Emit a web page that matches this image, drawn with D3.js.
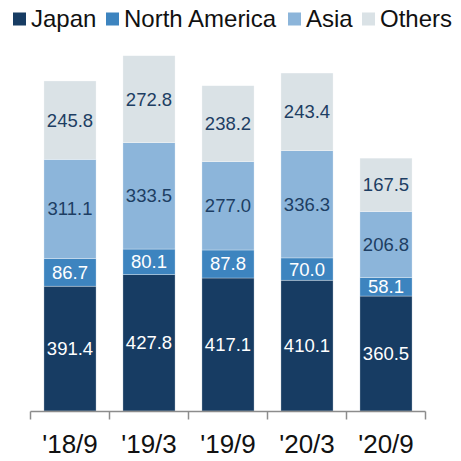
<!DOCTYPE html>
<html>
<head>
<meta charset="utf-8">
<script src="https://cdn.jsdelivr.net/npm/d3@7"></script>
<style>
  html, body { margin: 0; padding: 0; background: #fff; }
  svg { display: block; font-family: "Liberation Sans", Arial, Helvetica, sans-serif; }
</style>
</head>
<body>
<svg id="chart" width="461" height="461"></svg>
<script>
// Periods on the horizontal axis
const periods = ["'18/9", "'19/3", "'19/9", "'20/3", "'20/9"];

// Regional series, stacked bottom to top
const regions = ["Japan", "North America", "Asia", "Others"];
const japan        = [391.4, 427.8, 417.1, 410.1, 360.5];
const northAmerica = [86.7, 80.1, 87.8, 70.0, 58.1];
const asia         = [311.1, 333.5, 277.0, 336.3, 206.8];
const others       = [245.8, 272.8, 238.2, 243.4, 167.5];

const colors = {
  "Japan": "#173c63",
  "North America": "#3d84bf",
  "Asia": "#8cb5da",
  "Others": "#dae2e6"
};
const labelColors = {
  "Japan": "#ffffff",
  "North America": "#ffffff",
  "Asia": "#1d3e63",
  "Others": "#1d3e63"
};

const rows = periods.map((p, i) => ({
  period: p,
  "Japan": japan[i],
  "North America": northAmerica[i],
  "Asia": asia[i],
  "Others": others[i]
}));

const svg = d3.select("#chart");

const x = d3.scaleBand()
  .domain(periods)
  .range([30.5, 425.5])
  .paddingInner(0.34)
  .paddingOuter(0.17);

const maxTotal = d3.max(rows, r => regions.reduce((s, k) => s + r[k], 0));
const y = d3.scaleLinear()
  .domain([0, maxTotal])
  .range([411, 55.7]);

const series = d3.stack().keys(regions)(rows);

const layers = svg.append("g").selectAll("g")
  .data(series)
  .join("g")
  .attr("fill", d => colors[d.key]);

layers.selectAll("rect")
  .data(d => d)
  .join("rect")
  .attr("x", d => x(d.data.period))
  .attr("width", x.bandwidth())
  .attr("y", d => y(d[1]))
  .attr("height", d => y(d[0]) - y(d[1]))
  .attr("stroke", "#ffffff")
  .attr("stroke-opacity", 0.5)
  .attr("stroke-width", 0.6);

// Value labels centred in each segment
svg.append("g").selectAll("g")
  .data(series)
  .join("g")
  .attr("fill", d => labelColors[d.key])
  .selectAll("text")
  .data(d => d)
  .join("text")
  .attr("x", d => x(d.data.period) + x.bandwidth() / 2)
  .attr("y", d => (y(d[0]) + y(d[1])) / 2)
  .attr("text-anchor", "middle")
  .attr("dominant-baseline", "central")
  .attr("font-size", 18.5)
  .text(d => (d[1] - d[0]).toFixed(1));

// Category axis with ticks at band boundaries
const axisY = 411.5;
const axis = svg.append("g").attr("stroke", "#8c8c8c").attr("stroke-width", 1.5);
const [r0, r1] = x.range();
axis.append("line")
  .attr("x1", r0).attr("x2", r1)
  .attr("y1", axisY).attr("y2", axisY);
const boundaries = d3.range(periods.length + 1).map(i => r0 + i * x.step());
axis.selectAll("line.tick")
  .data(boundaries)
  .join("line")
  .attr("class", "tick")
  .attr("x1", d => d).attr("x2", d => d)
  .attr("y1", axisY).attr("y2", axisY + 8);

svg.append("g").selectAll("text")
  .data(periods)
  .join("text")
  .attr("x", d => x(d) + x.bandwidth() / 2)
  .attr("y", 452.5)
  .attr("text-anchor", "middle")
  .attr("font-size", 26)
  .attr("fill", "#111")
  .text(d => d);

// Legend
const legendX = [13, 106, 288, 362];
const legend = svg.append("g").selectAll("g")
  .data(regions)
  .join("g")
  .attr("transform", (d, i) => `translate(${legendX[i]},0)`);
legend.append("rect")
  .attr("x", 0).attr("y", 12.5)
  .attr("width", 13).attr("height", 13)
  .attr("fill", d => colors[d]);
legend.append("text")
  .attr("x", 18).attr("y", 26.5)
  .attr("font-size", 24)
  .attr("fill", "#111")
  .text(d => d);
</script>
</body>
</html>
